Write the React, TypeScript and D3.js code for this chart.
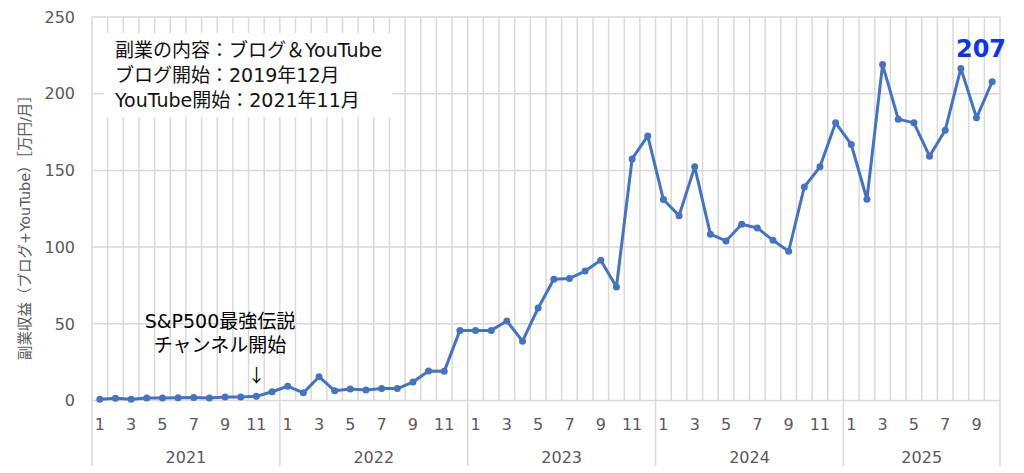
import React from "react";
import * as d3 from "d3";

const years = [2021, 2022, 2023, 2024, 2025];
const monthsPerYear = [12, 12, 12, 12, 10];
const monthTickLabels = [1, 3, 5, 7, 9, 11];
const yTicks = [0, 50, 100, 150, 200, 250];

const values2021 = [0.8, 1.4, 0.8, 1.6, 1.6, 1.8, 2.0, 1.6, 2.3, 2.3, 2.7, 5.7];
const values2022 = [9.3, 5, 15.5, 6.3, 7.5, 6.9, 7.8, 7.8, 12, 19.2, 19, 45.7];
const values2023 = [45.7, 45.7, 51.8, 38.7, 60.3, 79, 79.6, 84.4, 91.4, 74, 157.5, 172.5];
const values2024 = [131, 120.5, 152.3, 108.4, 104, 114.9, 112.5, 104.4, 97.3, 139.2, 152.3, 181];
const values2025 = [166.9, 131.2, 219, 183.4, 181, 159.3, 176.2, 216.5, 184.3, 207.8];

const latestLabel = "207";
const infoLines = ["副業の内容：ブログ＆YouTube", "ブログ開始：2019年12月", "YouTube開始：2021年11月"];
const annotationLines = ["S&P500最強伝説", "チャンネル開始"];
const yTitle = "副業収益（ブログ+YouTube）［万円/月］";

const FONT = "'DejaVu Sans', 'Noto Sans CJK JP', sans-serif";

export default function App() {
  const allValues = [...values2021, ...values2022, ...values2023, ...values2024, ...values2025];
  const points: { year: number; month: number; value: number; i: number }[] = [];
  const valueSets = [values2021, values2022, values2023, values2024, values2025];
  let idx = 0;
  years.forEach((yr, yi) => {
    for (let m = 1; m <= monthsPerYear[yi]; m++) {
      points.push({ year: yr, month: m, value: valueSets[yi][m - 1], i: idx });
      idx++;
    }
  });
  const n = allValues.length;

  const left = 92, right = 1000, top = 17, bottom = 400.5;
  const x = d3.scaleBand<number>().domain(d3.range(n)).range([left, right]).padding(0);
  const bw = x.bandwidth();
  const cx = (i: number) => (x(i) as number) + bw / 2;
  const y = d3.scaleLinear().domain([0, 250]).range([bottom, top]);

  const line = d3.line<{ i: number; value: number }>().x(d => cx(d.i)).y(d => y(d.value));

  const grid = "#d9d9d9";
  const textGray = "#595959";

  const yearStarts: number[] = [];
  let acc = 0;
  monthsPerYear.forEach(c => { yearStarts.push(acc); acc += c; });

  const annX = cx(10);

  return (
    <svg width={1024} height={473} style={{ position: "absolute", left: 0, top: 0, background: "#fff" }} fontFamily={FONT}>
      <rect x={0} y={0} width={1024} height={473} fill="#fff" />
      {d3.range(n + 1).map(k => {
        const xx = k === n ? right : (x(k) as number);
        return <line key={"vg" + k} x1={xx} x2={xx} y1={top} y2={bottom} stroke={grid} strokeWidth={1.5} />;
      })}
      {yTicks.map(t => (
        <line key={"hg" + t} x1={left} x2={right} y1={y(t)} y2={y(t)} stroke={grid} strokeWidth={1.5} />
      ))}
      {[...yearStarts, n].map((s, k) => {
        const xx = s === n ? right : (x(s) as number);
        return <line key={"ys" + k} x1={xx} x2={xx} y1={bottom} y2={466} stroke={grid} strokeWidth={1.5} />;
      })}
      {yTicks.map(t => (
        <text key={"yt" + t} x={75} y={y(t)} dy="0.36em" textAnchor="end" fontSize={16} fill={textGray}>{t}</text>
      ))}
      {points.filter(p => monthTickLabels.includes(p.month)).map(p => (
        <text key={"ml" + p.i} x={cx(p.i)} y={424} dy="0.36em" textAnchor="middle" fontSize={16} fill={textGray}>{p.month}</text>
      ))}
      {years.map((yr, yi) => {
        const s = yearStarts[yi];
        const e = s + monthsPerYear[yi];
        const xs = x(s) as number;
        const xe = e === n ? right : (x(e) as number);
        return <text key={"yl" + yr} x={(xs + xe) / 2} y={457} dy="0.36em" textAnchor="middle" fontSize={16} fill={textGray}>{yr}</text>;
      })}
      <text transform={`translate(25,224) rotate(-90)`} textAnchor="middle" dy="0.36em" fontSize={14.5} fill={textGray}>{yTitle}</text>
      <rect x={104} y={33} width={288} height={84} fill="#fff" />
      {infoLines.map((t, k) => (
        <text key={"il" + k} x={115} y={57 + k * 25} fontSize={19} fill="#111">{t}</text>
      ))}
      {annotationLines.map((t, k) => (
        <text key={"an" + k} x={220} y={328 + k * 24} textAnchor="middle" fontSize={19} fill="#000">{t}</text>
      ))}
      <text x={annX} y={382} textAnchor="middle" fontSize={18} fill="#000" fontFamily="'Noto Sans CJK JP', sans-serif">↓</text>
      <path d={line(points) || ""} fill="none" stroke="#4472c4" strokeWidth={3} strokeLinejoin="round" />
      {points.map(p => (
        <circle key={"pt" + p.i} cx={cx(p.i)} cy={y(p.value)} r={3.5} fill="#4472c4" />
      ))}
      <text x={981} y={57} textAnchor="middle" fontSize={24} fontWeight="bold" fill="#0a35f5">{latestLabel}</text>
    </svg>
  );
}
